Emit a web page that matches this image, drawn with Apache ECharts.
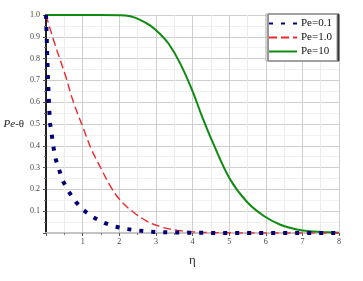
<!DOCTYPE html>
<html><head><meta charset="utf-8">
<script src="https://cdn.jsdelivr.net/npm/echarts@6/dist/echarts.min.js"></script>
<style>html,body{margin:0;padding:0;background:#fff}#c{width:363px;height:281px}</style>
</head><body><div id="c"></div>
<script>
const seriesNames = ['Pe=0.1', 'Pe=1.0', 'Pe=10'];
const xTicks = [1, 2, 3, 4, 5, 6, 7, 8];
const yTicks = [0.1, 0.2, 0.3, 0.4, 0.5, 0.6, 0.7, 0.8, 0.9, 1.0];

const pe01X = [0, 0.01, 0.02, 0.03, 0.04, 0.05, 0.062, 0.075, 0.09, 0.109, 0.156, 0.2, 0.254, 0.356, 0.465, 0.621, 0.813, 1.03, 1.29, 1.59, 1.9, 2.21, 2.54, 2.85, 3.16, 3.5, 4, 5, 6, 7, 8];
const pe01Y = [1.0, 0.945, 0.893, 0.835, 0.781, 0.726, 0.674, 0.616, 0.562, 0.506, 0.452, 0.398, 0.345, 0.291, 0.237, 0.19, 0.143, 0.104, 0.072, 0.046, 0.029, 0.018, 0.011, 0.006, 0.004, 0.002, 0.001, 0, 0, 0, 0];

const pe1X = [0, 0.25, 0.52, 0.75, 1.02, 1.25, 1.52, 1.75, 2.02, 2.39, 2.75, 3.11, 3.39, 4, 5, 6, 7, 8];
const pe1Y = [1.0, 0.862, 0.728, 0.6, 0.48, 0.38, 0.29, 0.217, 0.152, 0.095, 0.055, 0.03, 0.018, 0.005, 0.001, 0, 0, 0];

const pe10X = [0, 1, 1.5, 2, 2.3, 2.57, 2.85, 3.1, 3.35, 3.67, 3.99, 4.26, 4.58, 5.03, 5.49, 5.95, 6.4, 6.85, 7.3, 7.7, 8];
const pe10Y = [1, 1, 1, 0.999, 0.994, 0.978, 0.951, 0.915, 0.868, 0.776, 0.655, 0.535, 0.405, 0.245, 0.142, 0.078, 0.038, 0.016, 0.007, 0.003, 0.001];

const zip = (xs, ys) => xs.map((x, i) => [x, ys[i]]);
const font = 'Liberation Serif';

const chart = echarts.init(document.getElementById('c'), null, {renderer: 'canvas'});
chart.setOption({
  animation: false,
  backgroundColor: '#fff',
  grid: {left: 46, right: 24, top: 15, bottom: 48},
  legend: {
    orient: 'vertical', left: 266, top: 14,
    data: seriesNames,
    itemWidth: 28, itemHeight: 10, itemGap: 3,
    padding: [4, 5, 4, 2],
    backgroundColor: '#fff', borderColor: '#aaa', borderWidth: 1,
    shadowColor: '#333', shadowOffsetX: 2, shadowOffsetY: 0, shadowBlur: 0,
    itemStyle: {color: 'transparent', borderColor: 'transparent', borderWidth: 0, opacity: 0},
    textStyle: {fontFamily: font, fontSize: 11, color: '#111', padding: [0, 0, 0, -1]}
  },
  xAxis: [{
    type: 'value', min: 0, max: 8, interval: 1,
    name: 'η', nameLocation: 'middle', nameGap: 21,
    nameTextStyle: {fontFamily: font, fontSize: 13, color: '#333'},
    axisLine: {show: true, onZero: false, lineStyle: {color: '#555', width: 1}},
    axisTick: {show: true, length: 3, lineStyle: {color: '#555'}},
    minorTick: {show: true, splitNumber: 2, length: 2, lineStyle: {color: '#777'}},
    axisLabel: {fontFamily: font, fontSize: 8, color: '#444', margin: 5,
      formatter: v => xTicks.includes(v) ? String(v) : ''},
    splitLine: {show: true, lineStyle: {color: '#cfcfcf', width: 1}},
    minorSplitLine: {show: true, lineStyle: {color: '#ececec', width: 1}}
  }, {
    type: 'value', min: 0, max: 8, position: 'top',
    axisLine: {show: true, lineStyle: {color: '#c4c4c4', width: 2}},
    axisTick: {show: false}, axisLabel: {show: false}, splitLine: {show: false}
  }],
  yAxis: [{
    type: 'value', min: 0, max: 1, interval: 0.1,
    name: '{i|Pe}-θ', nameLocation: 'middle', nameGap: 21, nameRotate: 0,
    nameTextStyle: {fontFamily: font, fontSize: 11, color: '#222',
      rich: {i: {fontFamily: font, fontStyle: 'italic', fontSize: 11, color: '#222'}}},
    axisLine: {show: true, lineStyle: {color: '#555', width: 1}},
    axisTick: {show: true, length: 3, lineStyle: {color: '#555'}},
    minorTick: {show: true, splitNumber: 2, length: 2, lineStyle: {color: '#777'}},
    axisLabel: {fontFamily: font, fontSize: 8, color: '#444', margin: 6,
      formatter: v => { const t = yTicks.find(k => Math.abs(k - v) < 1e-6); return t ? t.toFixed(1) : ''; }},
    splitLine: {show: true, lineStyle: {color: '#cfcfcf', width: 1}},
    minorSplitLine: {show: true, lineStyle: {color: '#f1f1f1', width: 1}}
  }, {
    type: 'value', min: 0, max: 1, position: 'right',
    axisLine: {show: true, lineStyle: {color: '#222', width: 2}},
    axisTick: {show: false}, axisLabel: {show: false}, splitLine: {show: false}
  }],
  series: [{
    name: seriesNames[0], type: 'line', data: zip(pe01X, pe01Y),
    symbol: 'none', smooth: false, z: 4,
    lineStyle: {color: '#00007a', width: 4, type: [4, 8], cap: 'butt'},
    itemStyle: {color: '#00007a'}
  }, {
    name: seriesNames[1], type: 'line', data: zip(pe1X, pe1Y),
    symbol: 'none', smooth: 0.4, z: 3,
    lineStyle: {color: '#f02828', width: 1.4, type: [8, 4]},
    itemStyle: {color: '#f02828'}
  }, {
    name: seriesNames[2], type: 'line', data: zip(pe10X, pe10Y),
    symbol: 'none', smooth: 0.4, z: 2,
    lineStyle: {color: '#108a10', width: 2},
    itemStyle: {color: '#108a10'}
  }]
});
</script></body></html>
